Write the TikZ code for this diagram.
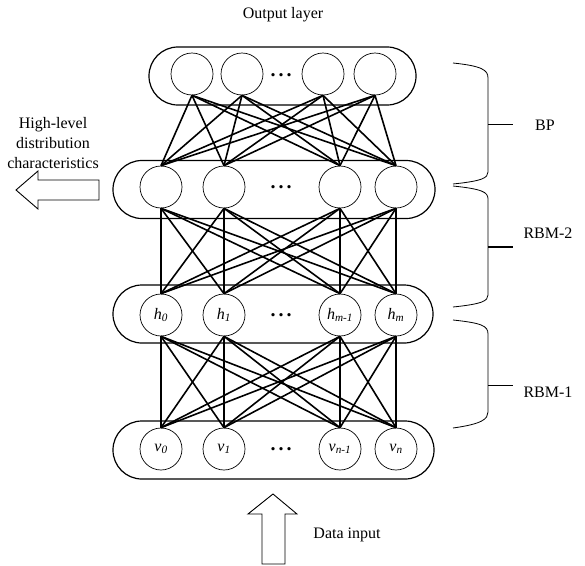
\documentclass[tikz,border=0pt]{standalone}
\usepackage{fontspec}
\setmainfont{Liberation Serif}
\usetikzlibrary{positioning}
\newcommand\unitlab[2]{\textit{#1}\textsubscript{\textit{#2}}}
\newcommand\unitdots{{\fontsize{20}{20}\selectfont\textbf{.\hspace{3pt}.\hspace{3pt}.}}}

\begin{document}
\begin{tikzpicture}[x=1pt,y=-1pt,
    every node/.style={font=\fontsize{16}{20}\selectfont},
    layer/.style={draw,line width=1.2pt,rounded corners=28.9pt,minimum height=58pt},
    unit/.style={draw,circle,line width=0.7pt,minimum size=42pt,inner sep=0pt},
    link/.style={line width=1.6pt},
    hollow/.style={draw,line width=0.9pt,fill=white}]
  \useasboundingbox (0,0) rectangle (585,565);

  % layer boxes
  \node[layer,minimum width=267pt] (outbox) at (282.5,76) {};
  \node[layer,minimum width=322pt] (topbox) at (274,189.5) {};
  \node[layer,minimum width=320pt] (hidbox) at (273,314) {};
  \node[layer,minimum width=321pt] (visbox) at (273.5,450) {};

  % units
  \foreach \i/\x in {1/192,2/242,3/323,4/375}
    \node[unit] (o\i) at (\x,74) {};
  \foreach \i/\x in {1/161,2/224,3/340,4/396}
    \node[unit] (b\i) at (\x,187) {};
  \node[unit] (h1) at (161,315) {\unitlab{h}{0}};
  \node[unit] (h2) at (224,315) {\unitlab{h}{1}};
  \node[unit] (h3) at (340,315) {\unitlab{h}{m-1}};
  \node[unit] (h4) at (396,315) {\unitlab{h}{m}};
  \node[unit] (v1) at (161,449) {\unitlab{v}{0}};
  \node[unit] (v2) at (224,449) {\unitlab{v}{1}};
  \node[unit] (v3) at (340,449) {\unitlab{v}{n-1}};
  \node[unit] (v4) at (396,449) {\unitlab{v}{n}};

  \node[anchor=base] (odots) at (281,76) {\unitdots};
  \node[anchor=base] (bdots) at (281,188) {\unitdots};
  \node[anchor=base] (hdots) at (281,316) {\unitdots};
  \node[anchor=base] (vdots) at (281,450) {\unitdots};

  % full connections between layers
  \foreach \i in {1,...,4}
    \foreach \j in {1,...,4} {
      \draw[link] (o\i.south) -- (b\j.north);
      \draw[link] (b\i.south) -- (h\j.north);
      \draw[link] (h\i.south) -- (v\j.north);
    }

  % braces
  \draw[line width=0.8pt] (453,63) .. controls (482,66) and (488,70) .. (488,78) -- (488,172) .. controls (488,178) and (482,181) .. (453,184);
  \draw[line width=0.8pt] (488,124) -- (513,124);
  \draw[line width=0.8pt] (453,186) .. controls (482,189) and (488,192) .. (488,199) -- (488,295) .. controls (488,301) and (482,304) .. (453,307);
  \draw[line width=1.2pt] (488,247) -- (513,247);
  \draw[line width=0.8pt] (453,320) .. controls (482,323) and (488,326) .. (488,334) -- (488,412) .. controls (488,419) and (482,424) .. (453,428);
  \draw[line width=0.8pt] (488,385) -- (513,385);

  \node (bp) at (545,125) {BP};
  \node (rbm2) at (548,233) {RBM-2};
  \node (rbm1) at (548,392) {RBM-1};

  % block arrows
  \draw[hollow] (99,180) -- (38,180) -- (38,171) -- (16,190) -- (38,209) -- (38,200) -- (99,200) -- cycle;
  \draw[hollow] (262,564) -- (262,514) -- (248,514) -- (273,494) -- (297,514) -- (285,514) -- (285,564) -- cycle;

  \node[align=center] (feat) at (53,143) {High-level\\distribution\\characteristics};
  \node (datain) at (347,535) {Data input};
  \node (outlab) at (283,15) {Output layer};
\end{tikzpicture}
\end{document}
